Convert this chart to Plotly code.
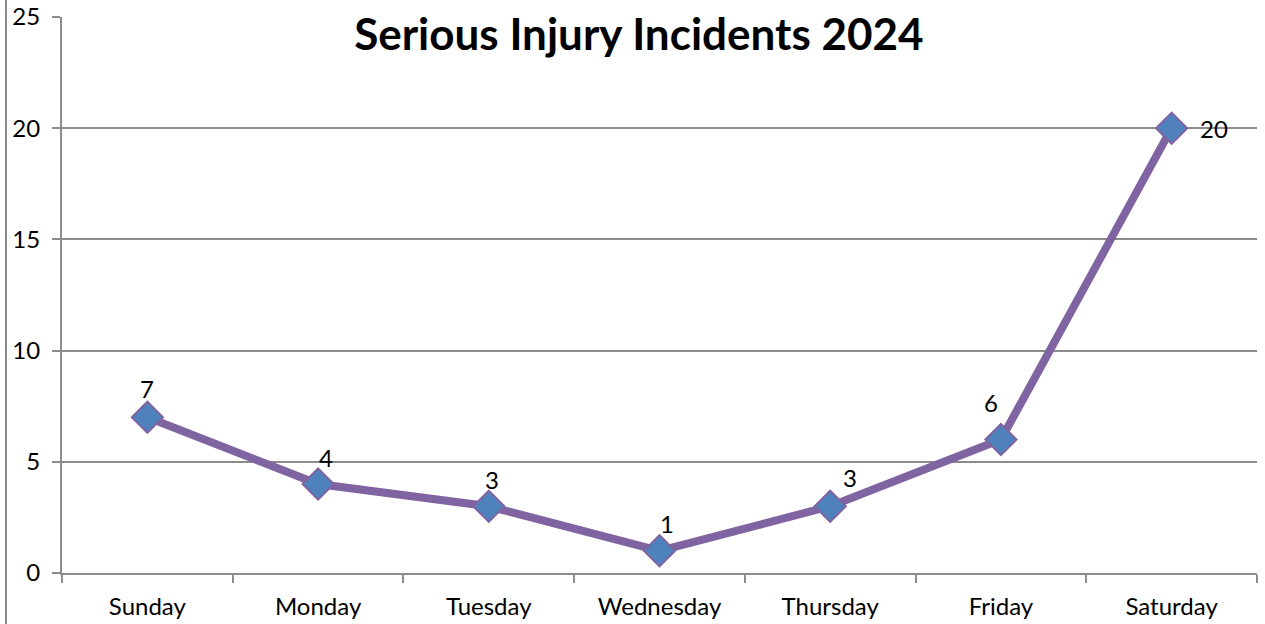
import plotly.graph_objects as go

days = ["Sunday", "Monday", "Tuesday", "Wednesday", "Thursday", "Friday", "Saturday"]
incidents = [7, 4, 3, 1, 3, 6, 20]
title_text = "Serious Injury Incidents 2024"
y_ticks = [0, 5, 10, 15, 20, 25]

# label offsets (pixels) for each data label
label_dx = [0, 8, 3, 7, 20, -10, 42]
label_dy = [-29, -27, -27, -27, -29, -37, 0]

FONT = "Lato"
PURPLE = "#8064A2"
BLUE = "#4F81BD"
GRID = "#8C8C8C"

fig = go.Figure()
fig.add_trace(go.Scatter(
    x=days, y=incidents, mode="lines+markers",
    line=dict(color=PURPLE, width=8),
    marker=dict(symbol="diamond", size=24, color=BLUE,
                line=dict(color=PURPLE, width=2)),
    showlegend=False, hoverinfo="x+y",
))

for d, v, dx, dy in zip(days, incidents, label_dx, label_dy):
    fig.add_annotation(x=d, y=v, text=str(v), showarrow=False,
                       xshift=dx, yshift=-dy,
                       font=dict(family=FONT, size=24, color="black"))

fig.update_layout(
    width=1265, height=624,
    margin=dict(l=62, r=8, t=17, b=51, autoexpand=False),
    paper_bgcolor="white", plot_bgcolor="white",
    title=dict(text=title_text, x=0.505, xref="container", xanchor="center",
               y=1 - 35 / 624, yref="container", yanchor="middle",
               font=dict(family=FONT, size=44, color="black", weight="bold")),
    font=dict(family=FONT, size=24, color="black"),
    shapes=[dict(type="line", xref="paper", yref="paper",
                 x0=-56 / 1195, x1=-56 / 1195, y0=-0.2, y1=1.1,
                 line=dict(color=GRID, width=2))],
)
fig.update_xaxes(
    type="category", range=[-0.5, 6.5], tickson="boundaries",
    ticks="outside", ticklen=8, tickwidth=2, tickcolor=GRID,
    showline=True, linecolor=GRID, linewidth=2, showgrid=False,
    ticklabelstandoff=11, tickfont=dict(family=FONT, size=24),
    automargin=False,
)
fig.update_yaxes(
    range=[0, 25], tickvals=y_ticks,
    ticks="outside", ticklen=8, tickwidth=2, tickcolor=GRID,
    showline=True, linecolor=GRID, linewidth=2,
    showgrid=True, gridcolor=GRID, gridwidth=2, zeroline=False,
    ticklabelstandoff=7, tickfont=dict(family=FONT, size=24),
    automargin=False,
)

fig.write_html("out.html", config={"displayModeBar": False},
               post_script="document.body.style.margin='0';document.body.style.overflow='hidden';")
